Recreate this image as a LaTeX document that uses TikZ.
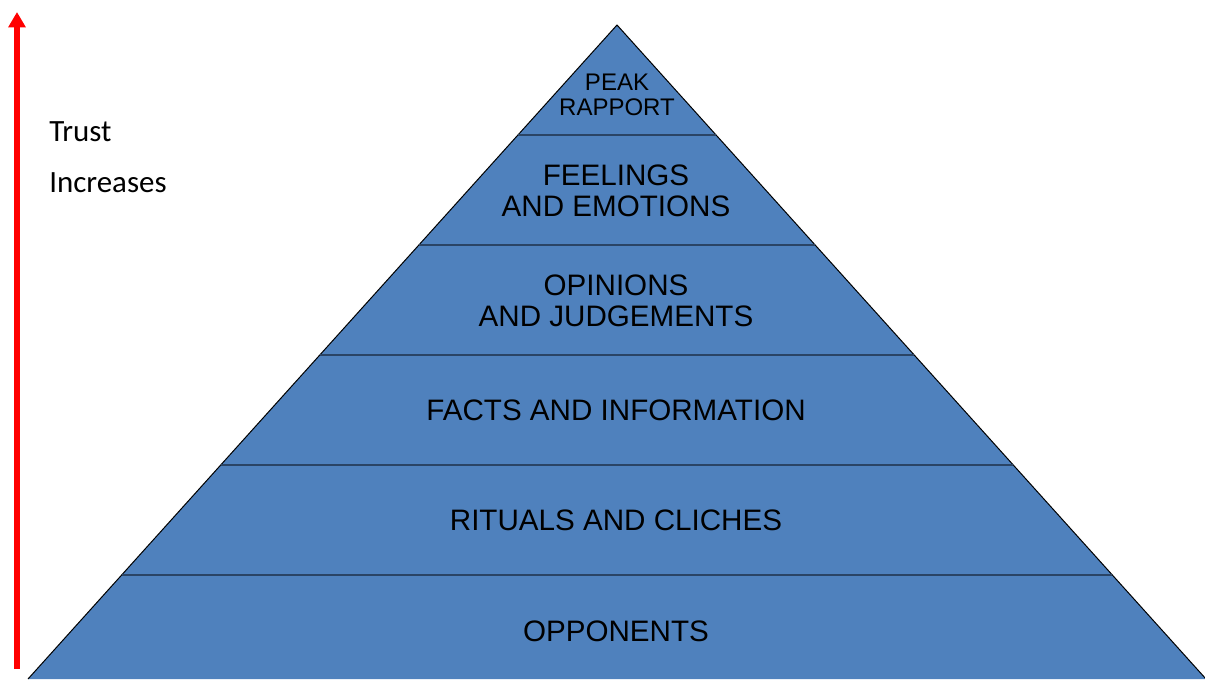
\documentclass[tikz,border=0pt]{standalone}
\usepackage{fontspec}
\setmainfont{Liberation Sans}
\newfontfamily\calfont{Carlito}
\usetikzlibrary{arrows.meta}
\definecolor{layerblue}{HTML}{4F81BD}
\definecolor{sepblue}{HTML}{2A4465}
\definecolor{arrowred}{HTML}{FF0000}
\begin{document}
\begin{tikzpicture}[x=0.75pt,y=-0.75pt,
  layertext/.style={inner sep=0pt,align=center,font=\fontsize{22.2}{23.5}\selectfont,text=black},
  peaktext/.style={inner sep=0pt,align=center,font=\fontsize{18}{19}\selectfont,text=black},
  sidetext/.style={inner sep=0pt,anchor=base west,font=\calfont\fontsize{23.2}{24}\selectfont},
  seprule/.style={draw=sepblue,line width=1.5pt}]
\useasboundingbox (0,0) rectangle (1205,679);
% pyramid
\coordinate (apex) at (617,25);
\coordinate (bl) at (28,679);
\coordinate (br) at (1206,679);
\fill[layerblue] (apex) -- (bl) -- (br) -- cycle;
\draw[black,line width=0.75pt] (bl) -- (apex) -- (br);
% separators
\foreach \yy/\nm in {135/a,245/b,355/c,465/d,575/e}{
  \coordinate (L\nm) at ({617-0.9*(\yy-25)},\yy);
  \coordinate (R\nm) at ({617+0.9*(\yy-25)},\yy);
  \draw[seprule] (L\nm) -- (R\nm);
}
% labels
\node[peaktext] (peak) at (617,95) {PEAK\\RAPPORT};
\node[layertext] (feel) at (616,191) {FEELINGS\\AND EMOTIONS};
\node[layertext] (opin) at (616,301) {OPINIONS\\AND JUDGEMENTS};
\node[layertext] (facts) at (616,410) {FACTS AND INFORMATION};
\node[layertext] (rit) at (616,520) {RITUALS AND CLICHES};
\node[layertext] (opp) at (616,631) {OPPONENTS};
% arrow
\coordinate (abot) at (17,669);
\coordinate (atop) at (17,12);
\draw[arrowred,line width=4.5pt,-{Triangle[width=12.5pt,length=11.5pt]}] (abot) -- (atop);
\node[sidetext] (trust) at (49,141) {Trust};
\node[sidetext] (incr) at (49,192) {Increases};
\end{tikzpicture}
\end{document}
